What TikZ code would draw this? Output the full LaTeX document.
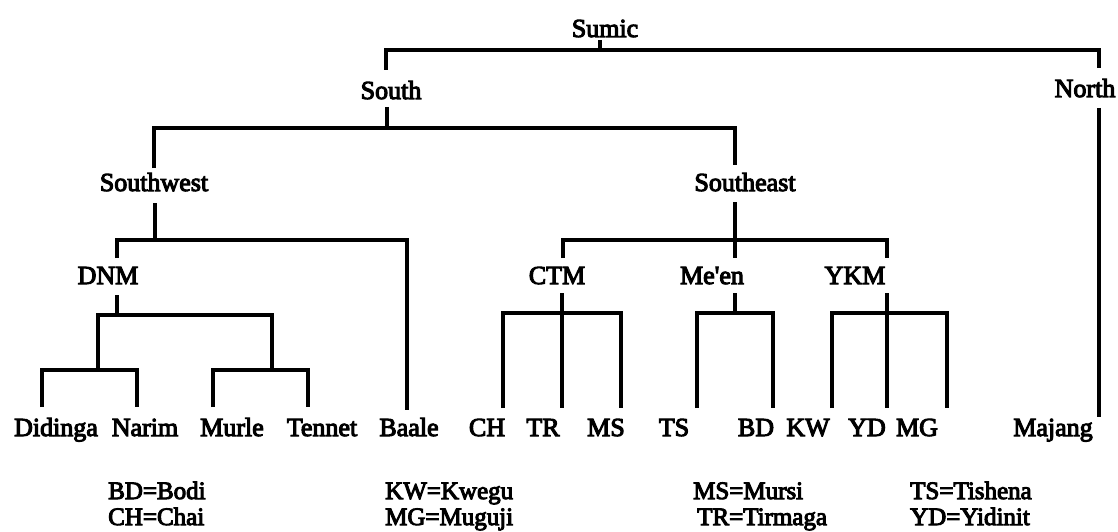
\documentclass[tikz,border=0pt]{standalone}
\usepackage{fontspec}
\setmainfont{Liberation Serif}[Ligatures=TeXOff, BoldFont=Liberation Serif, BoldFeatures={FakeBold=4}]
\begin{document}
\begin{tikzpicture}[x=1pt,y=-1pt,
  tree/.style={line width=3.2pt, line join=miter, line cap=butt},
  lbl/.style={font=\fontsize{26}{30}\selectfont\bfseries, inner sep=0pt, anchor=base},
  leg/.style={font=\fontsize{25}{30}\selectfont\bfseries, inner sep=0pt, anchor=base west}]
\useasboundingbox (0,0) rectangle (1118,532);
% labels
\node[lbl] (sumic) at (605,37) {Sumic};
\node[lbl] (south) at (391,99) {South};
\node[lbl] (north) at (1085,97) {North};
\node[lbl] (sw) at (154,191) {Southwest};
\node[lbl] (se) at (745,191) {Southeast};
\node[lbl] (dnm) at (108,284) {DNM};
\node[lbl] (ctm) at (557,284) {CTM};
\node[lbl] (meen) at (712,284) {Me'en};
\node[lbl] (ykm) at (855,284) {YKM};
\node[lbl] (didinga) at (56,436) {Didinga};
\node[lbl] (narim) at (145,436) {Narim};
\node[lbl] (murle) at (232,436) {Murle};
\node[lbl] (tennet) at (322,436) {Tennet};
\node[lbl] (baale) at (409,436) {Baale};
\node[lbl] (ch) at (487,436) {CH};
\node[lbl] (tr) at (543,436) {TR};
\node[lbl] (ms) at (606,436) {MS};
\node[lbl] (ts) at (674,436) {TS};
\node[lbl] (bd) at (756,436) {BD};
\node[lbl] (kw) at (808,436) {KW};
\node[lbl] (yd) at (867,436) {YD};
\node[lbl] (mg) at (917,436) {MG};
\node[lbl] (majang) at (1053,436) {Majang};
% legend
\node[leg] (l1) at (108,499) {BD=Bodi};
\node[leg] (l2) at (108,525) {CH=Chai};
\node[leg] (l3) at (385,499) {KW=Kwegu};
\node[leg] (l4) at (385,525) {MG=Muguji};
\node[leg] (l5) at (693,499) {MS=Mursi};
\node[leg] (l6) at (697,525) {TR=Tirmaga};
\node[leg] (l7) at (910,499) {TS=Tishena};
\node[leg] (l8) at (910,525) {YD=Yidinit};
% junction coordinates
\coordinate (sumicS) at (600,40);
\coordinate (sumicJ) at (600,50);
\coordinate (southT) at (386,70);
\coordinate (northT) at (1099,68);
\coordinate (northB) at (1099,108);
\coordinate (majangT) at (1099,417);
\coordinate (southB) at (387,107);
\coordinate (southJ) at (387,128);
\coordinate (swT) at (154,168);
\coordinate (seT) at (735,165);
\coordinate (swB) at (155,203);
\coordinate (swJ) at (155,240);
\coordinate (dnmT) at (117,258);
\coordinate (baaleT) at (407,410);
\coordinate (dnmB) at (117,295);
\coordinate (dnmJ) at (117,315);
\coordinate (dnJ) at (98,370);
\coordinate (mtJ) at (272,370);
\coordinate (didT) at (42,407);
\coordinate (narT) at (137,407);
\coordinate (murT) at (213,407);
\coordinate (tenT) at (308,407);
\coordinate (seB) at (735,202);
\coordinate (seJ) at (735,240);
\coordinate (ctmT) at (563,258);
\coordinate (meenT) at (735,258);
\coordinate (ykmT) at (887,258);
\coordinate (ctmB) at (562,293);
\coordinate (trT) at (562,408);
\coordinate (chT) at (503,408);
\coordinate (msT) at (621,408);
\coordinate (meenB) at (735,293);
\coordinate (meenJ) at (735,313);
\coordinate (tsT) at (697,408);
\coordinate (bdT) at (773,408);
\coordinate (ykmB) at (887,293);
\coordinate (ydT) at (887,408);
\coordinate (kwT) at (832,408);
\coordinate (mgT) at (947,408);
% tree lines
\begin{scope}[tree]
\draw (sumicS) -- (sumicJ);
\draw (southT) |- (northT |- sumicJ) -- (northT);
\draw (northB) -- (majangT);
\draw (southB) -- (southJ);
\draw (swT) |- (seT |- southJ) -- (seT);
\draw (swB) -- (swJ);
\draw (dnmT) |- (baaleT |- swJ) -- (baaleT);
\draw (dnmB) -- (dnmJ);
\draw (dnJ) |- (mtJ |- dnmJ) -- (mtJ);
\draw (didT) |- (narT |- dnJ) -- (narT);
\draw (murT) |- (tenT |- mtJ) -- (tenT);
\draw (seB) -- (meenT);
\draw (ctmT) |- (ykmT |- seJ) -- (ykmT);
\draw (ctmB) -- (trT);
\draw (chT) |- (msT |- meenJ) -- (msT);
\draw (meenB) -- (meenJ);
\draw (tsT) |- (bdT |- meenJ) -- (bdT);
\draw (ykmB) -- (ydT);
\draw (kwT) |- (mgT |- meenJ) -- (mgT);
\end{scope}
\end{tikzpicture}
\end{document}
